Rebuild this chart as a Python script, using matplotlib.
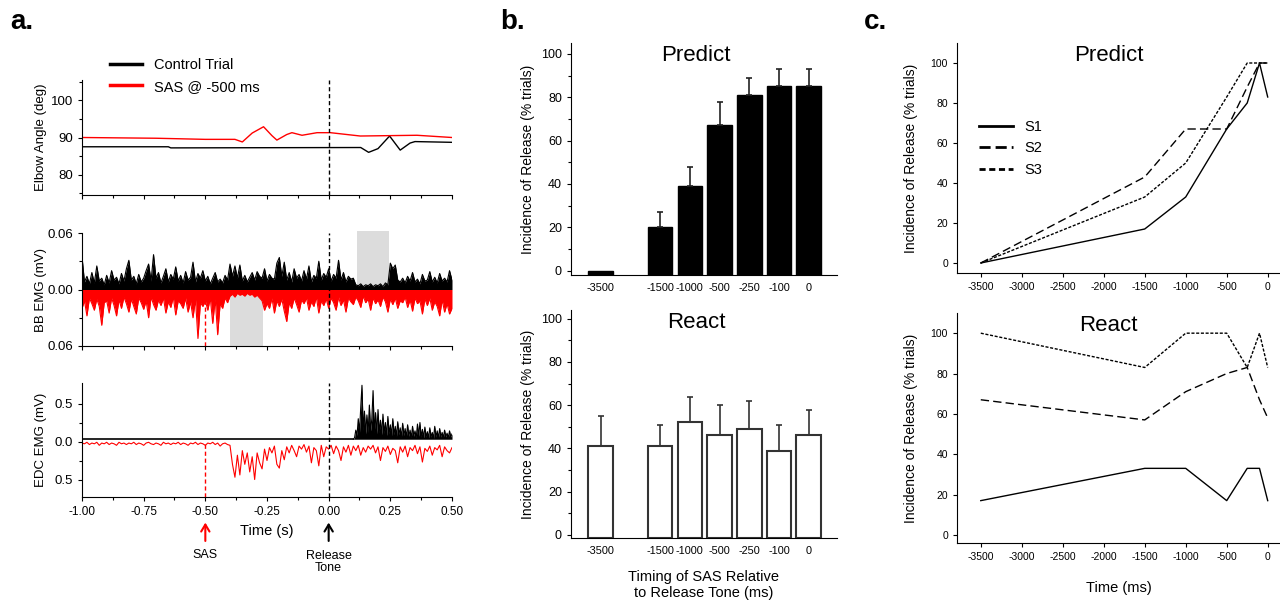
#Importing the libraries
import numpy as np
import matplotlib.pyplot as plt
from matplotlib.ticker import FormatStrFormatter
from matplotlib.lines import Line2D

plt.rcParams['font.family'] = ['Liberation Sans', 'DejaVu Sans']
plt.rcParams['axes.unicode_minus'] = False

# ---- panel a : elbow angle (deg) ----
elbow_ctrl_t = [-1.0, -0.65, -0.64, 0.13, 0.162, 0.2, 0.247, 0.29, 0.33, 0.35, 0.5]
elbow_ctrl = [87.5, 87.5, 87.2, 87.3, 86.0, 87.0, 90.4, 86.6, 88.5, 88.9, 88.7]
elbow_sas_t = [-1.0, -0.7, -0.5, -0.38, -0.35, -0.31, -0.264, -0.23, -0.21, -0.17,
               -0.149, -0.108, -0.047, 0.007, 0.128, 0.358, 0.5]
elbow_sas = [90.0, 89.8, 89.5, 89.5, 88.8, 91.2, 92.9, 90.5, 89.3, 90.8,
             91.3, 90.6, 91.3, 91.3, 90.4, 90.6, 90.0]

# BB EMG, 10 ms samples from -1.00 to 0.50 s (uV)
bb_ctrl_uv = [35, 8, 14, 6, 18, 7, 25, 9, 12, 5,
              15, 7, 20, 10, 13, 6, 17, 9, 22, 31,
              10, 14, 6, 16, 8, 12, 20, 27, 9, 37,
              12, 18, 7, 14, 22, 8, 16, 11, 24, 9,
              15, 7, 19, 10, 13, 29, 8, 17, 12, 20,
              9, 14, 6, 12, 18, 8, 11, 7, 15, 10,
              27, 14, 25, 12, 26, 9, 15, 8, 13, 18,
              10, 19, 14, 12, 22, 9, 16, 12, 11, 28,
              34, 14, 29, 10, 18, 8, 22, 12, 16, 9,
              20, 11, 25, 8, 15, 12, 30, 10, 17, 13,
              22, 9, 16, 12, 31, 10, 18, 8, 14, 11,
              12, 5, 4, 6, 3, 5, 4, 6, 3, 5,
              4, 6, 3, 7, 5, 28, 22, 26, 10, 8,
              12, 7, 14, 9, 18, 8, 11, 6, 16, 9,
              10, 19, 8, 13, 7, 17, 9, 12, 8, 20,
              10]
bb_sas_uv = [20, 12, 28, 9, 15, 22, 10, 18, 38, 14,
             12, 25, 9, 17, 28, 11, 20, 8, 15, 24,
             10, 18, 26, 9, 14, 21, 12, 30, 8, 16,
             22, 11, 17, 9, 25, 13, 19, 8, 27, 12,
             15, 20, 9, 24, 13, 30, 10, 52, 14, 18,
             12, 22, 9, 36, 10, 48, 15, 20, 9, 14,
             7, 5, 8, 4, 6, 5, 7, 4, 6, 5,
             8, 6, 9, 12, 22, 15, 20, 9, 25, 12,
             18, 10, 23, 34, 14, 20, 9, 16, 24, 11,
             15, 9, 22, 13, 18, 8, 25, 12, 17, 10,
             20, 9, 14, 22, 8, 17, 11, 24, 9, 13,
             16, 8, 12, 19, 7, 14, 10, 22, 9, 15,
             11, 18, 8, 13, 24, 10, 16, 9, 20, 12,
             14, 8, 19, 11, 23, 9, 15, 12, 26, 10,
             17, 9, 22, 13, 18, 28, 11, 24, 15, 26,
             20]

# EDC EMG (mV): control baseline, then burst sampled every 5 ms from 0.10 to 0.50 s
edc_ctrl_base_t = [-1.0, 0.1]
edc_ctrl_base = [0.03, 0.03]
edc_ctrl_burst = [0.03, 0.05, 0.15, 0.08, 0.30, 0.12, 0.45, 0.74, 0.15, 0.40,
                  0.10, 0.35, 0.12, 0.48, 0.14, 0.30, 0.67, 0.12, 0.38, 0.10,
                  0.42, 0.12, 0.28, 0.09, 0.36, 0.11, 0.25, 0.08, 0.33, 0.10,
                  0.22, 0.08, 0.30, 0.09, 0.20, 0.07, 0.26, 0.09, 0.18, 0.06,
                  0.24, 0.08, 0.17, 0.06, 0.22, 0.07, 0.15, 0.05, 0.20, 0.07,
                  0.14, 0.05, 0.23, 0.07, 0.25, 0.06, 0.16, 0.05, 0.19, 0.06,
                  0.13, 0.05, 0.18, 0.06, 0.12, 0.04, 0.20, 0.06, 0.14, 0.05,
                  0.17, 0.06, 0.12, 0.05, 0.15, 0.06, 0.11, 0.05, 0.14, 0.06,
                  0.10]
# EDC SAS trial, 10 ms samples from -1.00 to 0.50 s
edc_sas = [-0.02, -0.03, -0.01, -0.04, -0.02, -0.03, -0.01, -0.05, -0.02, -0.03,
           -0.01, -0.04, -0.02, -0.03, -0.05, -0.01, -0.03, -0.02, -0.04, -0.02,
           -0.03, -0.01, -0.04, -0.02, -0.03, -0.05, -0.02, -0.01, -0.03, -0.04,
           -0.02, -0.03, -0.05, -0.01, -0.03, -0.02, -0.04, -0.02, -0.03, -0.01,
           -0.04, -0.02, -0.03, -0.05, -0.02, -0.03, -0.01, -0.04, -0.02, -0.03,
           -0.05, -0.02, -0.03, -0.01, -0.04, -0.02, -0.06, -0.03, -0.02, -0.04,
           -0.05, -0.30, -0.47, -0.18, -0.44, -0.12, -0.30, -0.15, -0.40, -0.20,
           -0.50, -0.15, -0.28, -0.36, -0.10, -0.25, -0.08, -0.15, -0.06, -0.30,
           -0.35, -0.12, -0.24, -0.07, -0.15, -0.05, -0.12, -0.20, -0.06, -0.10,
           -0.04, -0.14, -0.06, -0.28, -0.08, -0.12, -0.32, -0.05, -0.20, -0.07,
           -0.10, -0.05, -0.16, -0.06, -0.12, -0.25, -0.07, -0.14, -0.05, -0.18,
           -0.06, -0.12, -0.05, -0.18, -0.08, -0.14, -0.06, -0.10, -0.05, -0.15,
           -0.07, -0.25, -0.08, -0.13, -0.06, -0.17, -0.09, -0.12, -0.28, -0.07,
           -0.14, -0.06, -0.20, -0.08, -0.12, -0.05, -0.16, -0.07, -0.27, -0.09,
           -0.13, -0.06, -0.18, -0.08, -0.11, -0.05, -0.20, -0.07, -0.12, -0.15,
           -0.08]

# analysis windows (s)
bb_win_ctrl = (0.115, 0.245)
bb_win_sas = (-0.40, -0.265)

# ---- panel b : group incidence of release ----
timings = ['-3500', '-1500', '-1000', '-500', '-250', '-100', '0']
timing_pos = [0, 2, 3, 4, 5, 6, 7]
predict_mean = [0, 20, 39, 67, 81, 85, 85]
predict_err = [0, 7, 9, 11, 8, 8, 8]
react_mean = [41, 41, 52, 46, 49, 39, 46]
react_err = [14, 10, 12, 14, 13, 12, 12]

# ---- panel c : individual subjects ----
times_ms = [-3500, -1500, -1000, -500, -250, -100, 0]
predict_s1 = [0, 17, 33, 67, 80, 100, 83]
predict_s2 = [0, 43, 67, 67, 88, 100, 100]
predict_s3 = [0, 33, 50, 83, 100, 100, 100]
react_s1 = [17, 33, 33, 17, 33, 33, 17]
react_s2 = [67, 57, 71, 80, 83, 67, 58]
react_s3 = [100, 83, 100, 100, 83, 100, 83]

W, H = 1280, 603
fig = plt.figure(figsize=(W / 100, H / 100), dpi=100)


def add_ax(left, top, right, bottom):
    ax = fig.add_axes([left / W, 1 - bottom / H, (right - left) / W, (bottom - top) / H])
    ax.spines['top'].set_visible(False)
    ax.spines['right'].set_visible(False)
    ax.tick_params(direction='out', length=3, width=0.8, labelsize=7.5)
    ax.tick_params(which='minor', direction='out', length=2.5, width=0.8)
    return ax


# ================= panel a =================
ax1 = add_ax(82, 80, 452, 195)
ax2 = add_ax(82, 233, 452, 346)
ax3 = add_ax(82, 383, 452, 497)

ax1.plot(elbow_ctrl_t, elbow_ctrl, color='black', lw=1, label='Control Trial')
ax1.plot(elbow_sas_t, elbow_sas, color='red', lw=1, label='SAS @ -500 ms')
ax1.set_ylim(74.5, 105.5)
ax1.set_yticks([80, 90, 100])
ax1.set_yticks([75, 85, 95, 105], minor=True)
ax1.set_ylabel('Elbow Angle (deg)', fontsize=9.5)
leg = ax1.legend(loc='upper left', bbox_to_anchor=(0.06, 1.24), frameon=False,
                 fontsize=10.5, handlelength=2.2, labelspacing=0.5, borderaxespad=0)
for ln in leg.get_lines():
    ln.set_linewidth(2.5)

t_bb = np.linspace(-1.0, 0.5, len(bb_ctrl_uv))
bb_ctrl = np.array(bb_ctrl_uv) / 1000
bb_sas = -np.array(bb_sas_uv) / 1000
ax2.axvspan(*bb_win_ctrl, ymin=0.5, ymax=1.02, color='#dcdcdc', lw=0, zorder=0, clip_on=False)
ax2.axvspan(*bb_win_sas, ymin=0.0, ymax=0.5, color='#dcdcdc', lw=0, zorder=0)
ax2.vlines(-0.5, -0.06, 0, colors='red', linestyles=(0, (3, 2)), lw=1, zorder=1)
ax2.fill_between(t_bb, 0, bb_sas, color='red', lw=0, zorder=2)
ax2.plot(t_bb, bb_sas, color='red', lw=0.8, zorder=2)
ax2.fill_between(t_bb, 0, bb_ctrl, color='black', lw=0, zorder=3)
ax2.plot(t_bb, bb_ctrl, color='black', lw=0.8, zorder=3)
ax2.set_ylim(-0.06, 0.06)
ax2.set_yticks([-0.06, 0, 0.06])
ax2.set_yticklabels(['0.06', '0.00', '0.06'])
ax2.set_yticks([-0.03, 0.03], minor=True)
ax2.set_ylabel('BB EMG (mV)', fontsize=9.5)

t_edc = np.linspace(-1.0, 0.5, len(edc_sas))
t_burst = np.linspace(0.1, 0.5, len(edc_ctrl_burst))
ax3.vlines(-0.5, -0.73, 0, colors='red', linestyles=(0, (3, 2)), lw=1, zorder=1)
ax3.plot(t_edc, edc_sas, color='red', lw=0.8, zorder=2)
ax3.plot(edc_ctrl_base_t, edc_ctrl_base, color='black', lw=1.2, zorder=3)
ax3.fill_between(t_burst, 0.03, edc_ctrl_burst, color='black', lw=0, zorder=3)
ax3.plot(t_burst, edc_ctrl_burst, color='black', lw=0.8, zorder=3)
ax3.set_ylim(-0.73, 0.77)
ax3.set_yticks([-0.5, 0, 0.5])
ax3.set_yticklabels(['0.5', '0.0', '0.5'])
ax3.set_yticks([-0.25, 0.25], minor=True)
ax3.set_ylabel('EDC EMG (mV)', fontsize=9.5)
ax3.set_xlabel('Time (s)', fontsize=10.5)
ax3.xaxis.set_label_coords(0.5, -0.24)

for ax in (ax1, ax2, ax3):
    ax.set_xlim(-1.0, 0.5)
    ax.set_xticks(np.arange(-1.0, 0.51, 0.25))
    ax.set_xticks(np.arange(-0.875, 0.5, 0.25), minor=True)
    ax.axvline(0, color='black', lw=1, ls=(0, (3, 2)), zorder=5)
    ax.tick_params(axis='y', labelsize=9.5)
    ax.tick_params(axis='x', labelsize=8.5)
    ax.yaxis.set_label_coords(-0.095, 0.5)
for ax in (ax1, ax2):
    ax.tick_params(labelbottom=False)
ax3.xaxis.set_major_formatter(FormatStrFormatter('%.2f'))

# stimulus markers under the time axis
ax3.annotate('', xy=(-0.5, -0.2), xycoords=('data', 'axes fraction'),
             xytext=(-0.5, -0.41), textcoords=('data', 'axes fraction'),
             arrowprops=dict(arrowstyle='->,head_length=0.5,head_width=0.3', color='red', lw=1.5))
ax3.annotate('', xy=(0.0, -0.2), xycoords=('data', 'axes fraction'),
             xytext=(0.0, -0.41), textcoords=('data', 'axes fraction'),
             arrowprops=dict(arrowstyle='->,head_length=0.5,head_width=0.3', color='black', lw=1.5))
ax3.text(-0.5, -0.51, 'SAS', transform=ax3.get_xaxis_transform(), ha='center', va='center', fontsize=9)
ax3.text(0.0, -0.57, 'Release\nTone', transform=ax3.get_xaxis_transform(), ha='center', va='center',
         fontsize=9, linespacing=1.1)

# ================= panel b =================
bx1 = add_ax(571, 43, 837, 275)
bx2 = add_ax(571, 310, 837, 538)

b_low1, b_low2 = -2, -1.4
bx1.bar(timing_pos, np.array(predict_mean) - b_low1, bottom=b_low1, width=0.83,
        color='black', edgecolor='black', lw=1)
bx1.errorbar(timing_pos[1:], predict_mean[1:], yerr=[[0] * 6, predict_err[1:]], fmt='none',
             ecolor='#222222', elinewidth=1.2, capsize=2.5, capthick=1.2)
bx1.set_ylim(b_low1, 105)
bx2.bar(timing_pos, np.array(react_mean) - b_low2, bottom=b_low2, width=0.83,
        color='white', edgecolor='#333333', lw=1.5)
bx2.errorbar(timing_pos, react_mean, yerr=[[0] * 7, react_err], fmt='none',
             ecolor='#333333', elinewidth=1.2, capsize=2.5, capthick=1.2)
bx2.set_ylim(b_low2, 104)

for ax, title in ((bx1, 'Predict'), (bx2, 'React')):
    ax.set_xlim(-1.0, 7.95)
    ax.set_xticks(timing_pos)
    ax.set_xticklabels(timings)
    ax.tick_params(axis='x', length=0, pad=6, labelsize=7.8)
    ax.tick_params(axis='y', labelsize=9)
    ax.set_yticks(np.arange(0, 101, 20))
    ax.set_yticks(np.arange(10, 100, 20), minor=True)
    ax.set_ylabel('Incidence of Release (% trials)', fontsize=10)
    ax.yaxis.set_label_coords(-0.135, 0.5)
    ax.text(0.47, 0.99, title, transform=ax.transAxes, ha='center', va='top', fontsize=16)
bx2.set_xlabel('Timing of SAS Relative\nto Release Tone (ms)', fontsize=10.5, labelpad=10,
               linespacing=1.2)

# ================= panel c =================
cx1 = add_ax(957, 43, 1280, 273)
cx2 = add_ax(957, 313, 1280, 543)

style_s1 = '-'
style_s2 = (0, (6, 3))
style_s3 = (0, (2.2, 1.2))
cx1.plot(times_ms, predict_s1, color='black', lw=1, ls=style_s1)
cx1.plot(times_ms, predict_s2, color='black', lw=1, ls=style_s2)
cx1.plot(times_ms, predict_s3, color='black', lw=1, ls=style_s3)
cx2.plot(times_ms, react_s1, color='black', lw=1, ls=style_s1)
cx2.plot(times_ms, react_s2, color='black', lw=1, ls=style_s2)
cx2.plot(times_ms, react_s3, color='black', lw=1, ls=style_s3)
cx1.set_ylim(-5, 110)
cx2.set_ylim(-4, 110)

for ax, title in ((cx1, 'Predict'), (cx2, 'React')):
    ax.set_xlim(-3790, 150)
    ax.set_xticks(np.arange(-3500, 1, 500))
    ax.set_yticks(np.arange(0, 101, 20))
    ax.set_ylabel('Incidence of Release (% trials)', fontsize=10)
    ax.yaxis.set_label_coords(-0.12, 0.5)
    ax.text(0.47, 0.99, title, transform=ax.transAxes, ha='center', va='top', fontsize=16)
cx2.set_xlabel('Time (ms)', fontsize=10.5, labelpad=14)

handles = [Line2D([], [], color='black', lw=2, ls='-'),
           Line2D([], [], color='black', lw=2, ls=(0, (4, 1.8))),
           Line2D([], [], color='black', lw=2, ls=(0, (2.2, 1.3)))]
cx1.legend(handles, ['S1', 'S2', 'S3'], loc='upper left', bbox_to_anchor=(0.05, 0.69),
           frameon=False, fontsize=10.5, handlelength=2.3, labelspacing=0.5, borderaxespad=0)

# panel letters
fig.text(10 / W, 1 - 29 / H, 'a.', fontsize=20, fontweight='bold', va='baseline')
fig.text(500 / W, 1 - 29 / H, 'b.', fontsize=20, fontweight='bold', va='baseline')
fig.text(864 / W, 1 - 29 / H, 'c.', fontsize=20, fontweight='bold', va='baseline')

fig.savefig('out.png', dpi=100)
